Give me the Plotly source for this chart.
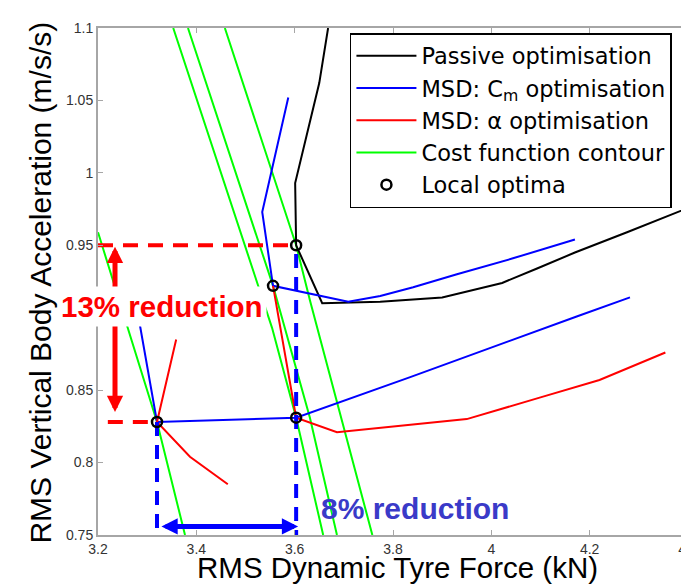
import plotly.graph_objects as go

FONT = "Liberation Sans, Arial, sans-serif"
LEGEND_FONT = "DejaVu Sans, Liberation Sans, sans-serif"

# ---------------- data ----------------
passive_x = [3.668, 3.650, 3.601, 3.603, 3.656, 3.774, 3.900, 4.022, 4.093, 4.170, 4.276, 4.402]
passive_y = [1.100, 1.062, 0.993, 0.950, 0.910, 0.911, 0.914, 0.924, 0.934, 0.945, 0.959, 0.976]

cm_upper_x = [3.587, 3.534, 3.556, 3.709, 3.774, 3.841, 3.930, 4.044, 4.170]
cm_upper_y = [1.052, 0.973, 0.922, 0.911, 0.915, 0.921, 0.930, 0.941, 0.954]
cm_lower_x = [3.280, 3.320, 3.603, 3.835, 4.175, 4.282]
cm_lower_y = [0.905, 0.828, 0.831, 0.859, 0.901, 0.914]

alpha_upper_x = [3.556, 3.603, 3.686, 3.835, 3.950, 4.100, 4.220, 4.354]
alpha_upper_y = [0.922, 0.831, 0.821, 0.826, 0.830, 0.845, 0.857, 0.876]
alpha_lower_x = [3.359, 3.320, 3.387, 3.464]
alpha_lower_y = [0.885, 0.828, 0.804, 0.785]

contour_a_x = [3.200, 3.261, 3.320, 3.377]
contour_a_y = [0.959, 0.893, 0.828, 0.750]
contour_b_x = [3.353, 3.509, 3.526, 3.554, 3.603, 3.658]
contour_b_y = [1.100, 0.940, 0.922, 0.893, 0.831, 0.750]
contour_c_x = [3.383, 3.556, 3.631, 3.686]
contour_c_y = [1.100, 0.922, 0.831, 0.750]
contour_d_x = [3.458, 3.603, 3.631, 3.694, 3.758]
contour_d_y = [1.100, 0.950, 0.912, 0.831, 0.750]

optima_x = [3.603, 3.556, 3.320, 3.603]
optima_y = [0.950, 0.922, 0.828, 0.831]

x_ticks = [3.2, 3.4, 3.6, 3.8, 4.0, 4.2, 4.4]
x_ticktext = ["3.2", "3.4", "3.6", "3.8", "4", "4.2", "4.4"]
y_ticks = [0.75, 0.80, 0.85, 0.90, 0.95, 1.00, 1.05, 1.10]
y_ticktext = ["0.75", "0.8", "0.85", "0.9", "0.95", "1", "1.05", "1.1"]

x_range = [3.2, 4.4]
y_range = [0.75, 1.1]

# reduction markers (from the optima)
passive_opt = (optima_x[0], optima_y[0])
best_opt = (optima_x[2], optima_y[2])
red_dash_start_x = 3.220
red_arrow_x = 3.2346
red_arrow_y = [0.9490, 0.8338]
blue_arrow_x = [3.326, 3.607]
blue_arrow_y = 0.7559
blue_dash_top = 0.944


def join(*segs):
    xs, ys = [], []
    for sx, sy in segs:
        if xs:
            xs.append(None)
            ys.append(None)
        xs += list(sx)
        ys += list(sy)
    return xs, ys


fig = go.Figure()

gx, gy = join((contour_a_x, contour_a_y), (contour_b_x, contour_b_y),
              (contour_c_x, contour_c_y), (contour_d_x, contour_d_y))
fig.add_trace(go.Scatter(x=gx, y=gy, mode="lines", name="Cost function contour",
                         line=dict(color="#00ff00", width=2), legendrank=4))

fig.add_trace(go.Scatter(x=passive_x, y=passive_y, mode="lines", name="Passive optimisation",
                         line=dict(color="black", width=2), legendrank=1))

bx, by = join((cm_upper_x, cm_upper_y), (cm_lower_x, cm_lower_y))
fig.add_trace(go.Scatter(x=bx, y=by, mode="lines", name="MSD: C<sub>m</sub> optimisation",
                         line=dict(color="#0000ff", width=2), legendrank=2))

rx, ry = join((alpha_upper_x, alpha_upper_y), (alpha_lower_x, alpha_lower_y))
fig.add_trace(go.Scatter(x=rx, y=ry, mode="lines", name="MSD: α optimisation",
                         line=dict(color="#ff0000", width=2), legendrank=3))

# guide dashed lines
dx, dy = join(([x_range[0], passive_opt[0]], [passive_opt[1], passive_opt[1]]),
              ([red_dash_start_x, best_opt[0]], [best_opt[1], best_opt[1]]))
fig.add_trace(go.Scatter(x=dx, y=dy, mode="lines", showlegend=False, hoverinfo="skip",
                         line=dict(color="#ff0000", width=4, dash="15px,10px")))
vx, vy = join(([best_opt[0], best_opt[0]], [best_opt[1], y_range[0]]),
              ([passive_opt[0], passive_opt[0]], [blue_dash_top, y_range[0]]))
fig.add_trace(go.Scatter(x=vx, y=vy, mode="lines", showlegend=False, hoverinfo="skip",
                         line=dict(color="#0000ff", width=4, dash="14px,9px")))

fig.add_trace(go.Scatter(x=optima_x, y=optima_y, mode="markers", name="Local optima",
                         marker=dict(symbol="circle-open", size=10, color="black",
                                     line=dict(width=2.5, color="black")),
                         legendrank=5))

# arrows
fig.add_annotation(x=red_arrow_x, y=red_arrow_y[0], ax=red_arrow_x, ay=red_arrow_y[1],
                   xref="x", yref="y", axref="x", ayref="y", text="", showarrow=True,
                   arrowside="end+start", arrowhead=2, startarrowhead=2,
                   arrowsize=0.65, startarrowsize=0.65, arrowwidth=5, arrowcolor="#ff0000",
                   standoff=0, startstandoff=0)
fig.add_annotation(x=blue_arrow_x[1], y=blue_arrow_y, ax=blue_arrow_x[0], ay=blue_arrow_y,
                   xref="x", yref="y", axref="x", ayref="y", text="", showarrow=True,
                   arrowside="end+start", arrowhead=2, startarrowhead=2,
                   arrowsize=0.65, startarrowsize=0.65, arrowwidth=5, arrowcolor="#0000ff",
                   standoff=0, startstandoff=0)

# texts
fig.add_annotation(x=3.331, y=0.9076, xref="x", yref="y", text="<b>13% reduction</b>",
                   showarrow=False, font=dict(size=29.5, color="#ff0000", family=FONT),
                   bgcolor="white", borderpad=3, xanchor="center", yanchor="middle")
fig.add_annotation(x=3.845, y=0.7683, xref="x", yref="y", text="<b>8% reduction</b>",
                   showarrow=False, font=dict(size=30, color="#3a3ac8", family=FONT),
                   xanchor="center", yanchor="middle")

# axis titles
fig.add_annotation(x=0.508, y=-0.065, xref="paper", yref="paper",
                   text="RMS Dynamic Tyre Force (kN)", showarrow=False,
                   font=dict(size=29.5, color="black", family=FONT),
                   xanchor="center", yanchor="middle")
fig.add_annotation(x=-0.099, y=0.497, xref="paper", yref="paper",
                   text="RMS Vertical Body Acceleration (m/s/s)", showarrow=False,
                   textangle=-90, font=dict(size=30, color="black", family=FONT),
                   xanchor="center", yanchor="middle")

axis_common = dict(showline=True, linecolor="#a6a6a6", linewidth=2, mirror="ticks",
                   ticks="inside", ticklen=5, tickcolor="#a6a6a6", tickwidth=1,
                   showgrid=False, zeroline=False, automargin=False,
                   tickfont=dict(size=14, color="#333333", family=FONT))

# the page body has an 8px margin; size/margins compensate so the plot lands where the reference has it
fig.update_layout(
    width=681, height=578,
    margin=dict(l=90, r=1, t=20, b=51),
    paper_bgcolor="white", plot_bgcolor="white",
    font=dict(family=FONT, color="black"),
    xaxis=dict(range=x_range, tickvals=x_ticks, ticktext=x_ticktext,
               ticklabeloverflow="allow", **axis_common),
    yaxis=dict(range=y_range, tickvals=y_ticks, ticktext=y_ticktext, **axis_common),
    legend=dict(x=0.427, y=0.99, xanchor="left", yanchor="top",
                bgcolor="white", bordercolor="black", borderwidth=1.5,
                font=dict(size=22.5, family=LEGEND_FONT, color="black"),
                traceorder="normal", itemwidth=60, tracegroupgap=0),
    showlegend=True,
)

fig.write_html("out.html")
